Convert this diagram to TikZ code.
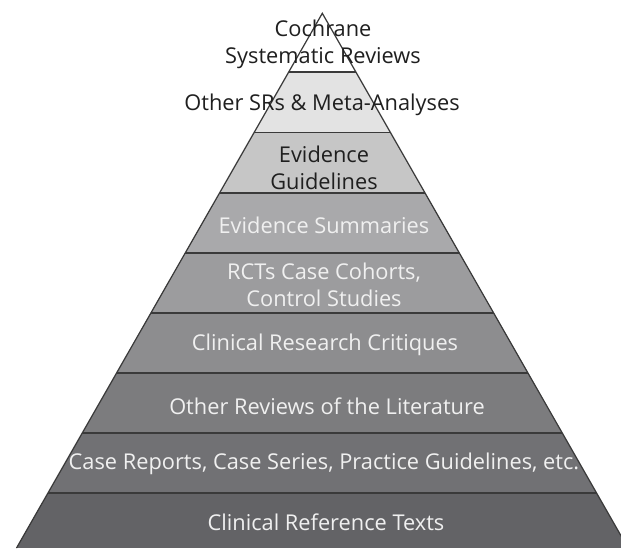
\documentclass[tikz,border=0pt]{standalone}
\usepackage{fontspec}
\setmainfont{Open Sans}
\definecolor{bandA}{HTML}{FFFFFF}
\definecolor{bandB}{HTML}{E3E3E3}
\definecolor{bandC}{HTML}{C6C6C6}
\definecolor{bandD}{HTML}{A9A9AB}
\definecolor{bandE}{HTML}{9C9C9E}
\definecolor{bandF}{HTML}{8D8D8F}
\definecolor{bandG}{HTML}{7C7C7E}
\definecolor{bandH}{HTML}{717174}
\definecolor{bandI}{HTML}{636366}
\definecolor{rule}{HTML}{3A3A3A}

\begin{document}
\begin{tikzpicture}[x=0.02cm, y=0.02cm]
\tikzstyle{every node}+=[inner sep=0pt, align=center, font=\fontsize{12.4}{15.3}\selectfont]
\tikzstyle{darktext}=[text=black!88]
\tikzstyle{lighttext}=[text=white!94!black]
\tikzstyle{band rule}=[rule, line width=1.1pt]
\useasboundingbox (0,0) rectangle (621,-548);
% outline of the pyramid (the right foot runs past the page)
\coordinate (apex) at (322.3,-13.3);
\coordinate (left) at (16.5,-548);
\coordinate (right) at (628,-548);
% the bands
\begin{scope}
\clip (0,0) rectangle (621,-548);
\clip (apex) -- (left) -- (right) -- cycle;
\fill [bandA] (0,-13) rectangle (630,-72);
\fill [bandB] (0,-72) rectangle (630,-132.5);
\fill [bandC] (0,-132.5) rectangle (630,-193);
\fill [bandD] (0,-193) rectangle (630,-253);
\fill [bandE] (0,-253) rectangle (630,-313);
\fill [bandF] (0,-313) rectangle (630,-373);
\fill [bandG] (0,-373) rectangle (630,-433);
\fill [bandH] (0,-433) rectangle (630,-493);
\fill [bandI] (0,-493) rectangle (630,-548);
\draw [band rule] (0,-72) -- (630,-72);
\draw [band rule] (0,-132.5) -- (630,-132.5);
\draw [band rule] (0,-193) -- (630,-193);
\draw [band rule] (0,-253) -- (630,-253);
\draw [band rule] (0,-313) -- (630,-313);
\draw [band rule] (0,-373) -- (630,-373);
\draw [band rule] (0,-433) -- (630,-433);
\draw [band rule] (0,-493) -- (630,-493);
\end{scope}
\begin{scope}
\clip (0,0) rectangle (621,-548);
\draw [rule, line width=0.7pt] (left) -- (apex) -- (right);
\end{scope}
% labels
\node [darktext] (cochrane) at (323,-44) {Cochrane\\Systematic Reviews};
\node [darktext] (othersr) at (322,-105) {Other SRs \& Meta-Analyses};
\node [darktext] (guidelines) at (324,-168) {Evidence\\Guidelines};
\node [lighttext] (summaries) at (324,-225) {Evidence Summaries};
\node [lighttext] (rcts) at (324,-285) {RCTs Case Cohorts,\\Control Studies};
\node [lighttext] (critiques) at (325,-345) {Clinical Research Critiques};
\node [lighttext] (reviews) at (327,-406) {Other Reviews of the Literature};
\node [lighttext] (reports) at (324,-464) {Case Reports, Case Series, Practice Guidelines, etc.};
\node [lighttext] (texts) at (326,-522) {Clinical Reference Texts};
\end{tikzpicture}
\end{document}
